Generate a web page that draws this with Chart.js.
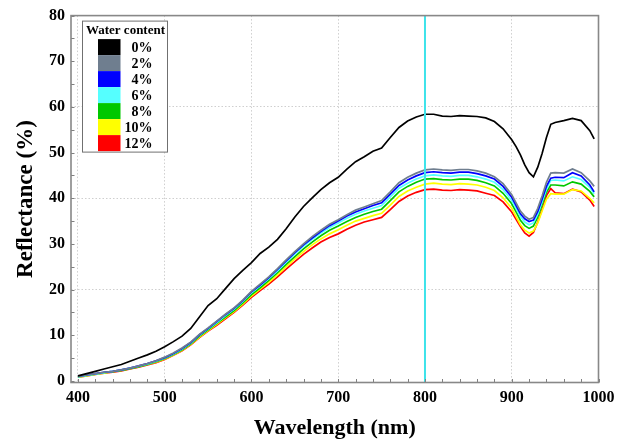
<!DOCTYPE html>
<html>
<head>
<meta charset="utf-8">
<script src="https://cdn.jsdelivr.net/npm/chart.js@4"></script>
<style>
html,body{margin:0;padding:0;background:#fff;}
#wrap{width:626px;height:441px;position:relative;}
</style>
</head>
<body>
<div id="wrap"><canvas id="c" width="626" height="441"></canvas></div>
<script>
// ---------------- DATA ----------------
const wavelengths = [400,410,420,430,440,450,460,470,480,490,500,510,520,530,540,550,560,570,580,590,600,610,620,630,640,650,660,670,680,690,700,710,720,730,740,750,760,770,780,790,800,810,820,830,840,850,860,870,880,890,900,905,910,915,920,925,930,935,940,945,950,960,970,980,990,995];

const wc0  = [1.1,1.6,2.1,2.6,3.1,3.6,4.3,5.0,5.7,6.5,7.5,8.6,9.8,11.5,14.0,16.5,18.0,20.2,22.4,24.2,25.9,27.9,29.3,31.0,33.3,35.9,38.2,40.1,41.9,43.4,44.6,46.4,48.0,49.1,50.3,51.0,53.3,55.5,56.9,57.8,58.4,58.4,58.0,57.9,58.1,58.0,57.9,57.6,56.8,55.2,52.8,51.3,49.5,47.3,45.6,44.7,46.8,49.8,53.3,56.2,56.6,57.0,57.5,57.0,54.8,53.0];
const wc2  = [1.0,1.3,1.6,1.9,2.1,2.4,2.8,3.3,3.8,4.4,5.2,6.1,7.2,8.5,10.2,11.6,13.1,14.6,16.0,17.7,19.6,21.2,22.8,24.6,26.5,28.3,30.0,31.6,33.0,34.3,35.3,36.4,37.4,38.1,38.8,39.5,41.4,43.4,44.6,45.5,46.2,46.4,46.2,46.1,46.3,46.3,46.0,45.5,44.7,43.2,40.8,39.0,37.2,36.1,35.4,35.8,37.8,40.5,43.5,45.5,45.6,45.5,46.4,45.6,43.8,42.6];
const wc4  = [1.0,1.3,1.6,1.9,2.1,2.4,2.8,3.3,3.8,4.4,5.1,6.0,7.1,8.4,10.1,11.5,13.0,14.5,15.9,17.6,19.5,21.0,22.6,24.4,26.3,28.1,29.8,31.3,32.7,34.0,35.0,36.1,37.0,37.7,38.4,39.0,40.9,42.8,44.0,44.9,45.6,45.8,45.6,45.5,45.7,45.7,45.4,44.9,44.2,42.6,40.2,38.4,36.6,35.5,34.9,35.2,37.1,39.8,42.6,44.4,44.6,44.5,45.6,44.9,42.9,41.4];
const wc6  = [0.9,1.2,1.5,1.8,2.1,2.4,2.8,3.2,3.7,4.3,5.0,5.9,7.0,8.3,10.0,11.4,12.8,14.3,15.7,17.4,19.3,20.8,22.4,24.1,26.0,27.8,29.5,31.0,32.4,33.6,34.6,35.6,36.5,37.2,37.8,38.4,40.3,42.2,43.3,44.2,44.9,45.1,44.9,44.8,45.0,45.0,44.7,44.2,43.5,41.9,39.5,37.8,36.0,34.8,34.2,34.6,36.5,39.2,42.0,43.9,44.0,43.8,44.7,44.1,42.4,41.0];
const wc8  = [0.9,1.2,1.5,1.8,2.0,2.3,2.7,3.1,3.6,4.2,4.9,5.8,6.8,8.1,9.8,11.2,12.6,14.0,15.4,17.1,18.9,20.4,22.0,23.7,25.5,27.2,28.9,30.4,31.8,33.0,33.9,34.9,35.8,36.5,37.1,37.6,39.5,41.4,42.6,43.5,44.2,44.3,44.1,44.0,44.2,44.2,43.9,43.4,42.7,41.1,38.8,37.0,35.2,34.0,33.4,33.9,35.9,38.6,41.3,42.9,42.9,42.7,43.6,43.1,41.5,40.3];
const wc10 = [0.8,1.1,1.4,1.7,2.0,2.3,2.7,3.1,3.6,4.1,4.8,5.7,6.7,8.0,9.6,11.0,12.4,13.8,15.2,16.8,18.6,20.1,21.6,23.2,25.0,26.7,28.3,29.8,31.1,32.2,33.1,34.1,35.0,35.6,36.2,36.7,38.5,40.4,41.6,42.4,43.1,43.3,43.1,43.0,43.2,43.1,42.9,42.4,41.7,40.1,37.8,36.0,34.2,33.0,32.4,32.8,34.6,37.2,39.8,41.0,40.9,40.9,41.9,41.6,40.0,39.0];
const wc12 = [0.8,1.1,1.4,1.7,1.9,2.2,2.6,3.0,3.5,4.0,4.7,5.6,6.6,7.9,9.5,10.9,12.2,13.6,15.0,16.6,18.3,19.8,21.2,22.8,24.5,26.1,27.7,29.1,30.4,31.4,32.2,33.2,34.1,34.8,35.3,35.8,37.5,39.3,40.5,41.3,41.9,42.0,41.8,41.7,41.9,41.8,41.6,41.1,40.6,39.2,37.0,35.4,33.8,32.4,31.7,32.5,34.8,37.6,40.6,42.1,41.2,41.0,42.0,41.4,39.6,38.2];

const seriesLabels = ['0%','2%','4%','6%','8%','10%','12%'];
const seriesValues = [wc0, wc2, wc4, wc6, wc8, wc10, wc12];
const legendTitle = 'Water content';
const xTickValues = [400,500,600,700,800,900,1000];
const yTickValues = [0,10,20,30,40,50,60,70,80];
const markerWavelength = 800;
const xTitle = 'Wavelength (nm)';
const yTitle = 'Reflectance (%)';

// ---------------- STYLE ----------------
const seriesColors = ['#000000','#6f7e8f','#0000ff','#55ffff','#00c800','#ffff00','#ff0000'];
const serif = "'Liberation Serif','Times New Roman',serif";

const datasets = seriesValues.map((vals, i) => ({
  label: seriesLabels[i],
  data: wavelengths.map((w, j) => ({x: w, y: vals[j]})),
  borderColor: seriesColors[i],
  backgroundColor: seriesColors[i],
  borderWidth: 1.7,
  pointRadius: 0,
  tension: 0,
  fill: false
}));

const decorPlugin = {
  id: 'decor',
  afterDatasetsDraw(chart) {
    const {ctx, chartArea: ca, scales: {x, y}} = chart;
    ctx.save();
    // cyan marker line
    const mx = x.getPixelForValue(markerWavelength);
    ctx.strokeStyle = '#3de3ea';
    ctx.lineWidth = 2;
    ctx.beginPath(); ctx.moveTo(mx, ca.top); ctx.lineTo(mx, ca.bottom); ctx.stroke();

    // inward tick marks
    ctx.strokeStyle = '#808080';
    ctx.lineWidth = 1;
    ctx.beginPath();
    for (let v = xTickValues[0]; v <= xTickValues[xTickValues.length-1]; v += 20) {
      const px = Math.round(x.getPixelForValue(v)) + 0.5;
      ctx.moveTo(px, ca.bottom); ctx.lineTo(px, ca.bottom - 3.5);
    }
    for (let v = yTickValues[0]; v <= yTickValues[yTickValues.length-1]; v += 5) {
      const py = Math.round(y.getPixelForValue(v)) + 0.5;
      ctx.moveTo(ca.left, py); ctx.lineTo(ca.left + 3.5, py);
    }
    ctx.stroke();

    // frame
    ctx.strokeStyle = '#888888';
    ctx.lineWidth = 1.6;
    ctx.strokeRect(ca.left, ca.top, ca.right - ca.left, ca.bottom - ca.top);

    // legend
    const bx = ca.left + 11.5, by = ca.top + 5.5, bw = 85, bh = 131;
    ctx.fillStyle = '#ffffff';
    ctx.fillRect(bx, by, bw, bh);
    ctx.strokeStyle = '#707070';
    ctx.lineWidth = 1;
    ctx.strokeRect(bx, by, bw, bh);
    ctx.fillStyle = '#000';
    ctx.font = 'bold 13px ' + serif;
    ctx.textAlign = 'center';
    ctx.textBaseline = 'middle';
    ctx.fillText(legendTitle, bx + bw/2 + 0.5, by + 9.5);
    ctx.font = 'bold 14px ' + serif;
    const sw = 22.5, sh = 16, sx = bx + 15.5, sy = by + 18;
    seriesLabels.forEach((lab, i) => {
      ctx.fillStyle = seriesColors[i];
      ctx.fillRect(sx, sy + i*sh, sw, sh);
      ctx.fillStyle = '#000';
      ctx.textAlign = 'right';
      ctx.fillText(lab, bx + 70, sy + i*sh + sh/2 + 1);
    });
    ctx.restore();
  }
};

new Chart(document.getElementById('c'), {
  type: 'line',
  data: { datasets },
  plugins: [decorPlugin],
  options: {
    responsive: false,
    animation: false,
    events: [],
    layout: { padding: { top: 12, right: 27.5, left: 0, bottom: 0 } },
    plugins: { legend: { display: false }, tooltip: { enabled: false } },
    scales: {
      x: {
        type: 'linear',
        min: 392,
        max: 1000,
        afterBuildTicks: s => { s.ticks = xTickValues.map(v => ({value: v})); },
        afterFit: s => { s.height = 58.5; },
        ticks: { color: '#000', font: { family: serif, size: 16, weight: 'bold' }, padding: 6, maxRotation: 0, autoSkip: false, callback: v => String(v) },
        grid: { drawTicks: false, color: '#cfcfcf', lineWidth: 1 },
        border: { display: false, dash: [1.5, 2] },
        title: { display: true, text: xTitle, color: '#000', font: { family: serif, size: 22, weight: 'bold' }, padding: { top: 0, bottom: -1 } }
      },
      y: {
        type: 'linear',
        min: -0.35,
        max: 80,
        afterBuildTicks: s => { s.ticks = yTickValues.map(v => ({value: v})); },
        afterFit: s => { s.width = 71; },
        ticks: { color: '#000', font: { family: serif, size: 16, weight: 'bold' }, padding: 6, autoSkip: false, callback: v => String(v) },
        grid: { drawTicks: false, lineWidth: 1, color: c => (c.tick && c.tick.value % 20 === 0 && c.tick.value !== 0) ? '#cfcfcf' : 'rgba(0,0,0,0)' },
        border: { display: false, dash: [1.5, 2] },
        title: { display: true, text: yTitle, color: '#000', font: { family: serif, size: 23, weight: 'bold' }, padding: { top: 12, bottom: 0 } }
      }
    }
  }
});
</script>
</body>
</html>
